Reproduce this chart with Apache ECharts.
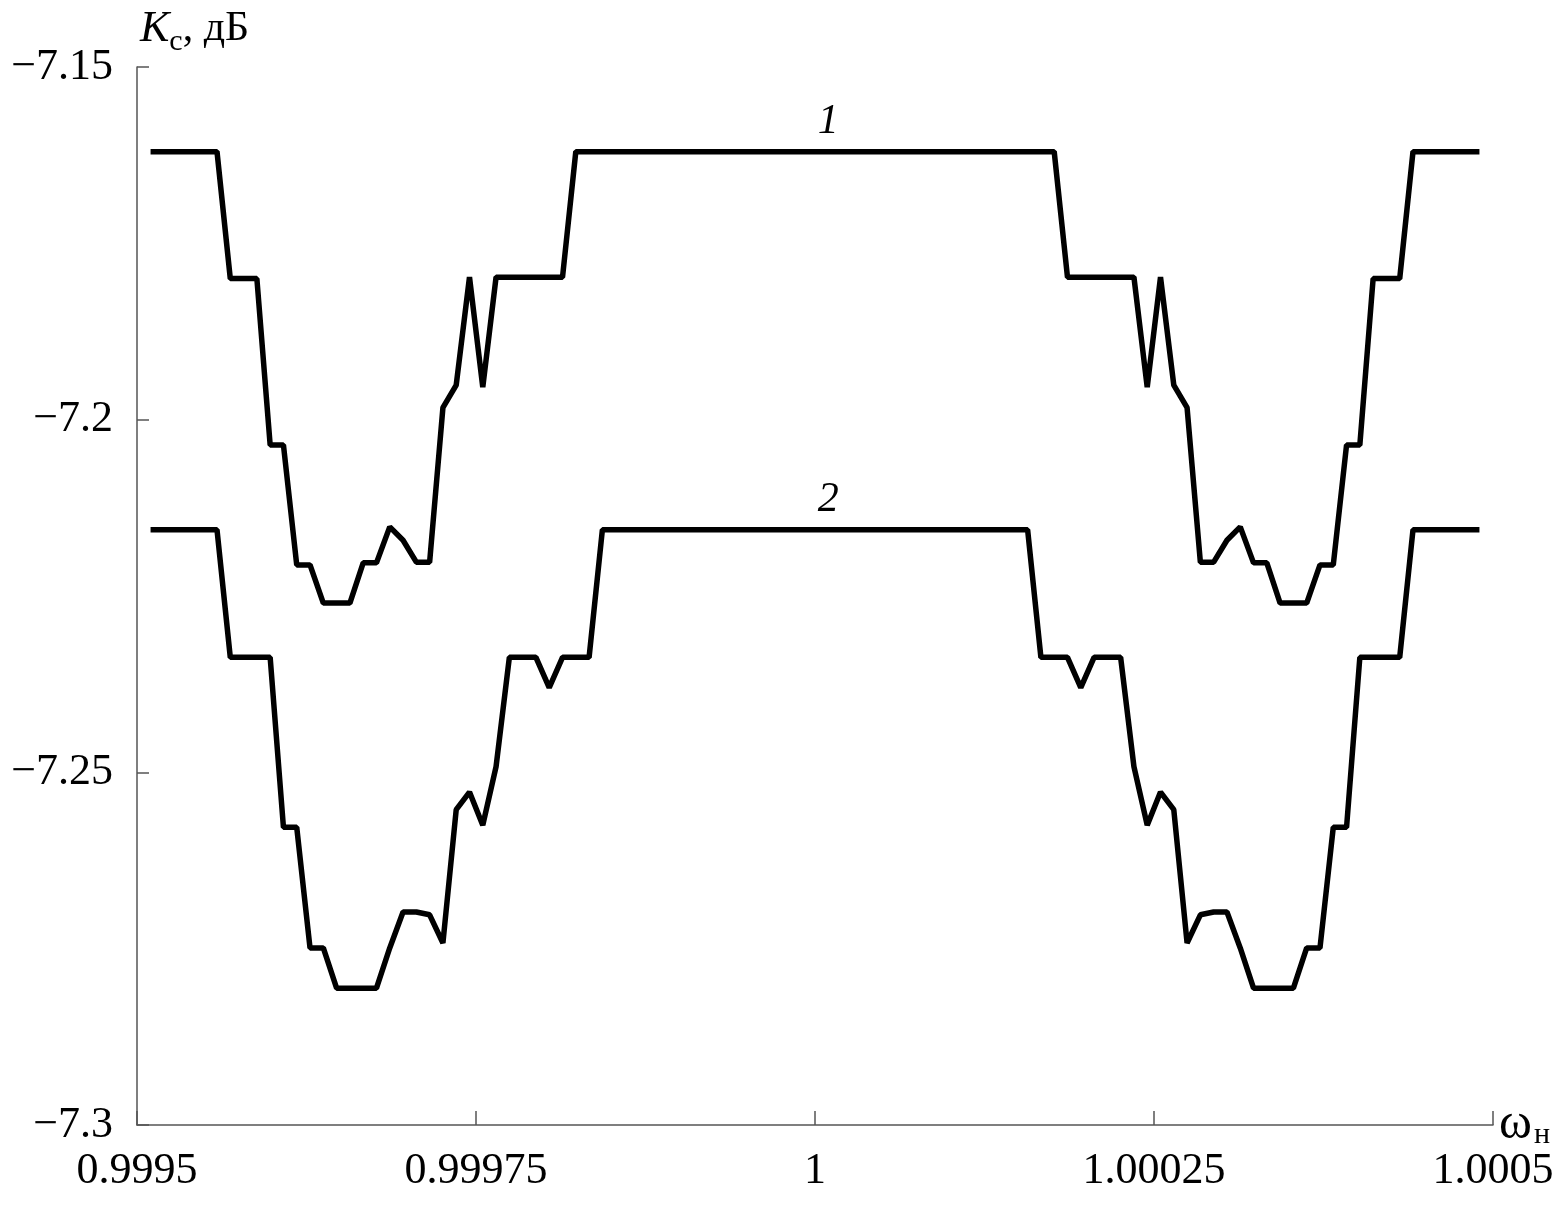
<!DOCTYPE html>
<html>
<head>
<meta charset="utf-8">
<script src="https://cdn.jsdelivr.net/npm/echarts@6/dist/echarts.min.js"></script>
<style>
html,body{margin:0;padding:0;background:#fff;}
#chart{width:1566px;height:1206px;}
</style>
</head>
<body>
<div id="chart"></div>
<script>
// normalized frequency samples (ω_н)
var omega = [
0.99951,0.9995198,0.9995296,0.9995394,0.9995492,0.999559,0.9995688,0.9995786,0.9995884,0.9995982,
0.999608,0.9996178,0.9996276,0.9996374,0.9996472,0.999657,0.9996668,0.9996766,0.9996864,0.9996962,
0.999706,0.9997158,0.9997256,0.9997354,0.9997452,0.999755,0.9997648,0.9997746,0.9997844,0.9997942,
0.999804,0.9998138,0.9998236,0.9998334,0.9998432,0.999853,0.9998628,0.9998726,0.9998824,0.9998922,
0.999902,0.9999118,0.9999216,0.9999314,0.9999412,0.999951,0.9999608,0.9999706,0.9999804,0.9999902,
1,
1.0000098,1.0000196,1.0000294,1.0000392,1.000049,1.0000588,1.0000686,1.0000784,1.0000882,1.000098,
1.0001078,1.0001176,1.0001274,1.0001372,1.000147,1.0001568,1.0001666,1.0001764,1.0001862,1.000196,
1.0002058,1.0002156,1.0002254,1.0002352,1.000245,1.0002548,1.0002646,1.0002744,1.0002842,1.000294,
1.0003038,1.0003136,1.0003234,1.0003332,1.000343,1.0003528,1.0003626,1.0003724,1.0003822,1.000392,
1.0004018,1.0004116,1.0004214,1.0004312,1.000441,1.0004508,1.0004606,1.0004704,1.0004802,1.00049
];

// curve 1 (K_c, dB)
var curve1 = [
-7.162,-7.162,-7.162,-7.162,-7.162,-7.162,
-7.180,-7.180,-7.180,
-7.2036,-7.2036,
-7.2206,-7.2206,
-7.226,-7.226,-7.226,
-7.2203,-7.2203,
-7.2152,-7.2171,
-7.2202,-7.2202,
-7.1983,-7.1951,-7.1798,-7.1954,
-7.1798,-7.1798,-7.1798,-7.1798,-7.1798,-7.1798,
-7.162,-7.162,-7.162,-7.162,-7.162,-7.162,-7.162,-7.162,-7.162,-7.162,
-7.162,-7.162,-7.162,-7.162,-7.162,-7.162,-7.162,-7.162,-7.162,-7.162,
-7.162,-7.162,-7.162,-7.162,-7.162,-7.162,-7.162,-7.162,-7.162,-7.162,
-7.162,-7.162,-7.162,-7.162,-7.162,-7.162,-7.162,
-7.1798,-7.1798,-7.1798,-7.1798,-7.1798,-7.1798,
-7.1954,-7.1798,-7.1951,-7.1983,
-7.2202,-7.2202,
-7.2171,-7.2152,
-7.2203,-7.2203,
-7.226,-7.226,-7.226,
-7.2206,-7.2206,
-7.2036,-7.2036,
-7.180,-7.180,-7.180,
-7.162,-7.162,-7.162,-7.162,-7.162,-7.162
];

// curve 2 (K_c, dB)
var curve2 = [
-7.2156,-7.2156,-7.2156,-7.2156,-7.2156,-7.2156,
-7.2337,-7.2337,-7.2337,-7.2337,
-7.2578,-7.2578,
-7.2749,-7.2749,
-7.2806,-7.2806,-7.2806,-7.2806,
-7.2749,-7.2698,-7.2698,-7.2702,-7.2742,
-7.2553,-7.2528,-7.2575,-7.2492,
-7.2337,-7.2337,-7.2337,-7.238,-7.2337,-7.2337,-7.2337,
-7.2156,-7.2156,-7.2156,-7.2156,-7.2156,-7.2156,-7.2156,-7.2156,-7.2156,-7.2156,
-7.2156,-7.2156,-7.2156,-7.2156,-7.2156,-7.2156,-7.2156,-7.2156,-7.2156,-7.2156,
-7.2156,-7.2156,-7.2156,-7.2156,-7.2156,-7.2156,-7.2156,-7.2156,-7.2156,-7.2156,
-7.2156,-7.2156,-7.2156,
-7.2337,-7.2337,-7.2337,-7.238,-7.2337,-7.2337,-7.2337,
-7.2492,-7.2575,-7.2528,-7.2553,
-7.2742,-7.2702,-7.2698,-7.2698,-7.2749,
-7.2806,-7.2806,-7.2806,-7.2806,
-7.2749,-7.2749,
-7.2578,-7.2578,
-7.2337,-7.2337,-7.2337,-7.2337,
-7.2156,-7.2156,-7.2156,-7.2156,-7.2156,-7.2156
];

var xTickLabels = ['0.9995','0.99975','1','1.00025','1.0005'];
var yTickLabels = ['\u22127.3','\u22127.25','\u22127.2','\u22127.15'];
var curveNames = ['1','2'];
var labelIndex = 51;

var FONT = '"Liberation Serif","Times New Roman",serif';

function curveMark(vals, name){
  return {
    symbol:'circle', symbolSize:0, silent:true,
    itemStyle:{color:'rgba(0,0,0,0)'},
    label:{show:true, position:'top', distance:9, formatter:name,
      fontFamily:FONT, fontStyle:'italic', fontSize:42, color:'#000'},
    data:[{coord:[omega[labelIndex], vals[labelIndex]], value:name}]
  };
}

var chart = echarts.init(document.getElementById('chart'), null, {renderer:'canvas'});
var axisColor = '#555';
chart.setOption({
  animation:false,
  backgroundColor:'#fff',
  grid:{left:137, right:73, top:67, bottom:81, containLabel:false, outerBoundsMode:'none'},
  xAxis:{
    type:'value', min:0.9995, max:1.0005, interval:0.00025,
    axisLine:{show:true, onZero:false, lineStyle:{color:axisColor, width:1.5}},
    axisTick:{show:true, inside:true, length:14, lineStyle:{color:axisColor, width:1.5}},
    splitLine:{show:false},
    axisLabel:{margin:24, fontFamily:FONT, fontSize:44, color:'#000',
      formatter:function(v){ return xTickLabels[Math.round((v-0.9995)/0.00025)]; }},
    name:'{w|\u03c9}{s|\u043d}',
    nameLocation:'end', nameGap:6, nameMoveOverlap:false,
    nameTextStyle:{rich:{
      w:{fontFamily:FONT, fontSize:50, color:'#000', lineHeight:50},
      s:{fontFamily:FONT, fontSize:30, color:'#000', verticalAlign:'bottom', lineHeight:50, padding:[26,0,0,2]}
    }}
  },
  yAxis:{
    type:'value', min:-7.3, max:-7.15, interval:0.05,
    axisLine:{show:true, onZero:false, lineStyle:{color:axisColor, width:1.5}},
    axisTick:{show:true, inside:true, length:12, lineStyle:{color:axisColor, width:1.5}},
    splitLine:{show:false},
    axisLabel:{margin:24, fontFamily:FONT, fontSize:44, color:'#000',
      formatter:function(v){ return yTickLabels[Math.round((v+7.3)/0.05)]; }},
    name:'{k|K}{s|\u0441}{t|, \u0434\u0411}',
    nameLocation:'end', nameGap:10, nameMoveOverlap:false,
    nameTextStyle:{align:'left', padding:[0,0,0,3], rich:{
      k:{fontFamily:FONT, fontStyle:'italic', fontSize:44, color:'#000', lineHeight:46},
      s:{fontFamily:FONT, fontSize:30, color:'#000', verticalAlign:'bottom', lineHeight:56},
      t:{fontFamily:FONT, fontSize:42, color:'#000', lineHeight:46}
    }}
  },
  series:[
    {type:'line', name:curveNames[0], data:curve1.map(function(v,i){return [omega[i], v];}),
      showSymbol:false, symbol:'none', lineStyle:{color:'#000', width:5.5}, z:3,
      markPoint:curveMark(curve1, curveNames[0])},
    {type:'line', name:curveNames[1], data:curve2.map(function(v,i){return [omega[i], v];}),
      showSymbol:false, symbol:'none', lineStyle:{color:'#000', width:5.5}, z:3,
      markPoint:curveMark(curve2, curveNames[1])}
  ]
});
</script>
</body>
</html>
